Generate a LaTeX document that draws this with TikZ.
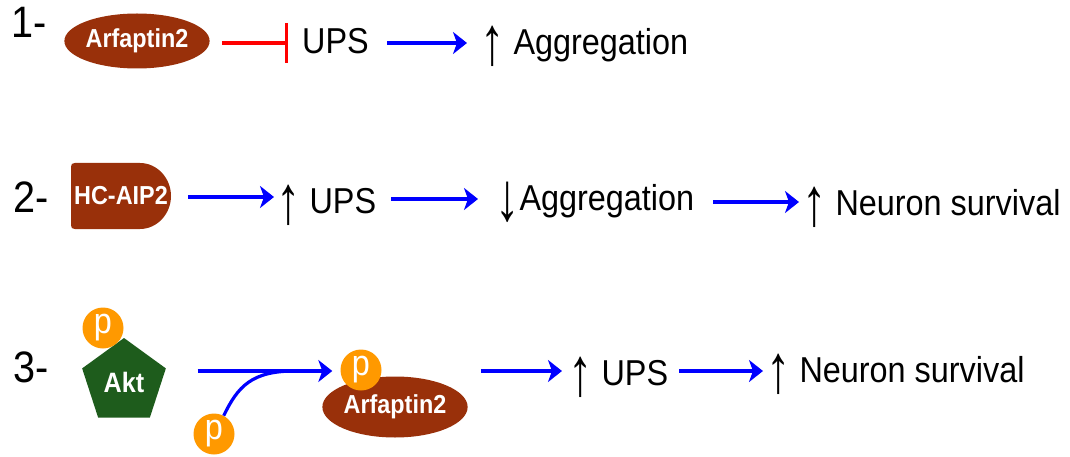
\documentclass[tikz,border=0pt]{standalone}
\usepackage{fontspec}
\usepackage{graphicx}
\setmainfont{Liberation Sans}[FakeStretch=0.9]
\usetikzlibrary{arrows.meta,shapes.geometric,calc}
\definecolor{brownc}{RGB}{153,48,10}
\definecolor{greenc}{RGB}{30,92,28}
\definecolor{orangec}{RGB}{255,153,0}
\newcommand\uparr{\raisebox{-10pt}{\scalebox{1.5}[1.9]{↑}}}
\newcommand\dnarr{\raisebox{-10pt}{\scalebox{1.5}[1.9]{↓}}}
\tikzset{
  txt/.style={font=\fontsize{36}{40}\selectfont, inner sep=0pt, anchor=base west, text=black},
  num/.style={font=\fontsize{44}{48}\selectfont, inner sep=0pt, anchor=base west, text=black},
  barrow/.style={draw=blue, line width=3.2pt, -{Stealth[length=14pt,width=22pt,inset=4pt]}},
  bline/.style={draw=blue, line width=3.2pt},
  inhib/.style={draw=red, line width=3.2pt, -{Bar[width=40pt,line width=3.2pt]}},
  prot/.style={ellipse, fill=brownc, text=white, inner sep=0pt, font=\bfseries\fontsize{26}{28}\selectfont},
  lab/.style={text=white, inner sep=0pt, font=\bfseries\fontsize{26}{28}\selectfont},
  phos/.style={circle, fill=orangec, text=white, minimum size=41pt, inner sep=0pt, font=\fontsize{36}{38}\selectfont},
  kin/.style={regular polygon, regular polygon sides=5, fill=greenc, text=white, inner sep=0pt, font=\bfseries\fontsize{28}{30}\selectfont}
}
\begin{document}
\begin{tikzpicture}[x=1pt,y=-1pt]
\useasboundingbox (0,0) rectangle (1070,457);
% row reference coordinates
\coordinate (y1) at (0,43);
\coordinate (y2a) at (0,197);
\coordinate (y2b) at (0,199);
\coordinate (y2c) at (0,202);
\coordinate (y3) at (0,371);

% ---- Row 1
\node[num] (n1) at (11,38) {1-};
\node[prot, minimum width=136pt, minimum height=55pt] (a1) at (137,41) {Arfaptin2};
\node[txt] (u1) at (302,54) {UPS};
\node[txt] (g1) at (480,55) {\uparr{} Aggregation};
\draw[inhib, shorten <=12pt, shorten >=14pt] (a1.east |- y1) -- (u1.west |- y1);
\draw[barrow, shorten <=18pt, shorten >=13pt] (u1.east |- y1) -- (g1.west |- y1);

% ---- Row 2
\node[num] (n2) at (13,212) {2-};
\fill[brownc] (140,163) -- (75,163) .. controls (72,163) and (71,164) .. (71,167)
  -- (71,225) .. controls (71,228) and (72,229) .. (75,229) -- (140,229)
  .. controls (157,229) and (171,214) .. (171,196)
  .. controls (171,178) and (157,163) .. (140,163) -- cycle;
\node[lab, minimum width=100pt, minimum height=66pt] (hc) at (121,196) {HC-AIP2};
\node[txt] (u2) at (276,213) {\uparr{} UPS};
\node[txt] (g2) at (495,210) {\dnarr Aggregation};
\node[txt] (s2) at (802,215) {\uparr{} Neuron survival};
\draw[barrow, shorten <=17pt, shorten >=2pt] (hc.east |- y2a) -- (u2.west |- y2a);
\draw[barrow, shorten <=15pt, shorten >=17pt] (u2.east |- y2b) -- (g2.west |- y2b);
\draw[barrow, shorten <=19pt, shorten >=3pt] (g2.east |- y2c) -- (s2.west |- y2c);

% ---- Row 3
\node[num] (n3) at (13,382) {3-};
\node[kin, minimum size=88pt] (akt) at (124,382) {Akt};
\node[phos] (pt) at (103,328) {p};
\node[prot, minimum width=130pt, minimum height=61pt] (a3) at (395,407) {Arfaptin2};
\node[phos] (pa) at (361,370) {p};
\node[phos] (pb) at (214,434) {p};
\coordinate (j) at (295,371);
\draw[bline] (pb.62) .. controls (238,386) and (252,371) .. (j);
\draw[barrow, shorten <=36pt, shorten >=8pt] (akt.east |- y3) -- (pa.west |- y3);
\node[txt] (u3) at (568,385) {\uparr{} UPS};
\node[txt] (s3) at (766,382) {\uparr{} Neuron survival};
\draw[barrow, shorten <=13pt, shorten >=6pt] (a3.east |- y3) -- (u3.west |- y3);
\draw[barrow, shorten <=11pt, shorten >=3pt] (u3.east |- y3) -- (s3.west |- y3);
\end{tikzpicture}
\end{document}
